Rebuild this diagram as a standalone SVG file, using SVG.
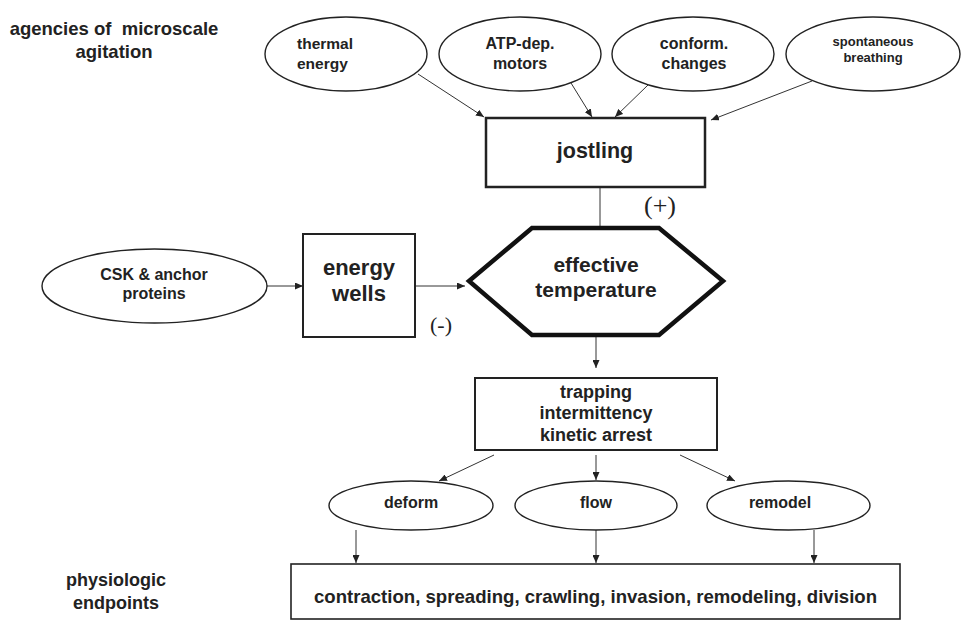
<svg xmlns="http://www.w3.org/2000/svg" width="965" height="628" viewBox="0 0 965 628">
<defs>
<marker id="arr" markerUnits="userSpaceOnUse" markerWidth="9" markerHeight="7" refX="8" refY="3.5" orient="auto">
<path d="M0,0 L8,3.5 L0,7 z" fill="#222"/>
</marker>
<style>
text{font-family:"Liberation Sans",Arial,sans-serif;font-weight:bold;fill:#222;text-anchor:middle}
.ell{fill:#fff;stroke:#222;stroke-width:1.4}
.box{fill:#fff;stroke:#222}
.con{fill:none;stroke:#333;stroke-width:1}
.sign{font-family:"Liberation Serif","Times New Roman",serif;font-weight:normal}
</style>
</defs>
<rect width="965" height="628" fill="#fff"/>

<g id="label-agencies">
<text x="114" y="35" font-size="18.5" xml:space="preserve" style="white-space:pre">agencies of  microscale</text>
<text x="114" y="58" font-size="18.5">agitation</text>
</g>
<g id="label-endpoints">
<text x="116" y="586" font-size="18">physiologic</text>
<text x="116" y="609" font-size="18">endpoints</text>
</g>

<g id="connectors">
<path class="con" d="M418,74 L484,117" marker-end="url(#arr)"/>
<path class="con" d="M571,83 L592,117" marker-end="url(#arr)"/>
<path class="con" d="M648,85 L615,117" marker-end="url(#arr)"/>
<path class="con" d="M812,81 L711,120" marker-end="url(#arr)"/>
<path class="con" d="M600,187 L600,228"/>
<path class="con" d="M267,286 L303,286" marker-end="url(#arr)"/>
<path class="con" d="M415,286 L465,286" marker-end="url(#arr)"/>
<path class="con" d="M596,335 L596,368" marker-end="url(#arr)"/>
<path class="con" d="M494,455 L439,481" marker-end="url(#arr)"/>
<path class="con" d="M596,455 L596,480" marker-end="url(#arr)"/>
<path class="con" d="M680,455 L735,481" marker-end="url(#arr)"/>
<path class="con" d="M356,530 L356,563" marker-end="url(#arr)"/>
<path class="con" d="M596,530 L596,563" marker-end="url(#arr)"/>
<path class="con" d="M814,530 L814,563" marker-end="url(#arr)" stroke-width="1.6"/>
</g>

<g id="thermal">
<ellipse class="ell" cx="346" cy="54" rx="81" ry="37"/>
<text x="297" y="49" font-size="15.5" style="text-anchor:start">thermal</text>
<text x="297" y="69" font-size="15.5" style="text-anchor:start">energy</text>
</g>
<g id="atp">
<ellipse class="ell" cx="520" cy="54" rx="81" ry="37"/>
<text x="520" y="49" font-size="16">ATP-dep.</text>
<text x="520" y="69" font-size="16">motors</text>
</g>
<g id="conform">
<ellipse class="ell" cx="693" cy="54" rx="81" ry="37"/>
<text x="694" y="49" font-size="16">conform.</text>
<text x="694" y="69" font-size="16">changes</text>
</g>
<g id="spontaneous">
<ellipse class="ell" cx="873" cy="54" rx="87" ry="37"/>
<text x="873" y="46" font-size="13">spontaneous</text>
<text x="873" y="62" font-size="13">breathing</text>
</g>
<g id="jostling">
<rect class="box" x="486" y="118" width="219" height="69" stroke-width="2.5"/>
<text x="595" y="158" font-size="21.5">jostling</text>
</g>
<g id="csk">
<ellipse class="ell" cx="154.5" cy="286" rx="112.5" ry="37"/>
<text x="154" y="280" font-size="16">CSK &amp; anchor</text>
<text x="154" y="299" font-size="16">proteins</text>
</g>
<g id="energy-wells">
<rect class="box" x="303" y="234" width="112" height="103" stroke-width="2"/>
<text x="359" y="275" font-size="22">energy</text>
<text x="359" y="301" font-size="22">wells</text>
<text class="sign" x="441" y="332" font-size="22">(-)</text>
</g>
<g id="effective-temperature">
<polygon points="532,228 659,228 723,281 659,335 532,335 469,281" fill="#fff" stroke="#111" stroke-width="4.5" stroke-linejoin="miter"/>
<text x="596" y="272" font-size="21">effective</text>
<text x="596" y="297" font-size="21">temperature</text>
<text class="sign" x="660" y="214" font-size="26">(+)</text>
</g>
<g id="trapping">
<rect class="box" x="475" y="378" width="242" height="72" stroke-width="2"/>
<text x="596" y="398" font-size="18">trapping</text>
<text x="596" y="419" font-size="18">intermittency</text>
<text x="596" y="441" font-size="18">kinetic arrest</text>
</g>
<g id="deform">
<ellipse class="ell" cx="411" cy="505.5" rx="82" ry="24.5"/>
<text x="411" y="508" font-size="16">deform</text>
</g>
<g id="flow">
<ellipse class="ell" cx="596" cy="505.5" rx="81" ry="24.5"/>
<text x="596" y="508" font-size="16">flow</text>
</g>
<g id="remodel">
<ellipse class="ell" cx="788.5" cy="505.5" rx="81.5" ry="24.5"/>
<text x="780" y="508" font-size="16">remodel</text>
</g>
<g id="endpoints">
<rect class="box" x="291" y="564" width="609" height="55" stroke-width="1.6"/>
<text x="595.5" y="603" font-size="18.6">contraction, spreading, crawling, invasion, remodeling, division</text>
</g>
</svg>
